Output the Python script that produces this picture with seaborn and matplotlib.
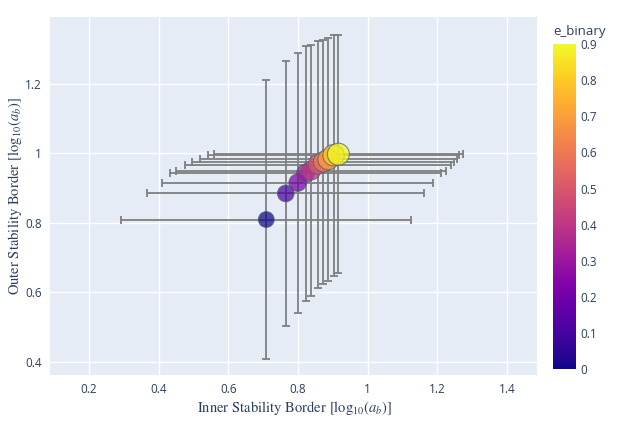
import numpy as np
import pandas as pd
import matplotlib
matplotlib.use('Agg')
import matplotlib.pyplot as plt
import seaborn as sns
from matplotlib.colors import Normalize
from matplotlib.cm import ScalarMappable

# values
e_binary = [0.0, 0.1, 0.2, 0.3, 0.4, 0.5, 0.6, 0.7, 0.8, 0.9]
inner = [0.709, 0.765, 0.799, 0.822, 0.838, 0.857, 0.873, 0.887, 0.902, 0.916]
inner_err = [0.416, 0.397, 0.390, 0.388, 0.387, 0.382, 0.376, 0.369, 0.361, 0.358]
outer = [0.810, 0.885, 0.916, 0.943, 0.951, 0.968, 0.976, 0.983, 0.995, 0.998]
outer_err = [0.401, 0.382, 0.374, 0.367, 0.360, 0.356, 0.352, 0.350, 0.347, 0.343]
size_value = [1.0, 1.1, 1.2, 1.3, 1.4, 1.5, 1.6, 1.7, 1.8, 1.9]

x_ticks = [0.2, 0.4, 0.6, 0.8, 1.0, 1.2, 1.4]
x_tick_labels = ['0.2', '0.4', '0.6', '0.8', '1', '1.2', '1.4']
y_ticks = [0.4, 0.6, 0.8, 1.0, 1.2]
y_tick_labels = ['0.4', '0.6', '0.8', '1', '1.2']
cbar_ticks = [0, 0.1, 0.2, 0.3, 0.4, 0.5, 0.6, 0.7, 0.8, 0.9]
cbar_tick_labels = ['0', '0.1', '0.2', '0.3', '0.4', '0.5', '0.6', '0.7', '0.8', '0.9']

df = pd.DataFrame({'e_binary': e_binary, 'inner': inner, 'inner_err': inner_err,
                   'outer': outer, 'outer_err': outer_err, 'size_value': size_value})

sns.set_style('darkgrid', {'axes.facecolor': '#E5ECF6', 'grid.color': 'white'})
plt.rcParams['font.family'] = ['Open Sans', 'DejaVu Sans']
plt.rcParams['mathtext.fontset'] = 'stix'

text_col = '#2a3f5f'

fig = plt.figure(figsize=(6.4, 4.25), dpi=100)
ax = fig.add_axes([0.078, 0.118, 0.761, 0.843])

ax.errorbar(df['inner'], df['outer'], xerr=df['inner_err'], yerr=df['outer_err'],
            fmt='none', ecolor='#7f7f7f', elinewidth=1.3, capsize=2.8, capthick=1.3, zorder=2)
sns.scatterplot(df, x='inner', y='outer', hue='e_binary', palette='plasma', hue_norm=(0, 0.9),
                size='size_value', sizes=(130, 250), alpha=0.72, edgecolor='#5a5a6a',
                linewidth=0.8, legend=False, ax=ax, zorder=3)

ax.set_xlim(0.088, 1.486)
ax.set_ylim(0.363, 1.394)
ax.set_xticks(x_ticks)
ax.set_xticklabels(x_tick_labels)
ax.set_yticks(y_ticks)
ax.set_yticklabels(y_tick_labels)
ax.tick_params(length=0, labelsize=8.5, labelcolor=text_col, pad=6)
ax.grid(True, color='white', linewidth=1)
for s in ax.spines.values():
    s.set_visible(False)

ax.set_xlabel(r'Inner Stability Border [log$_{10}$($a_b$)]', family='STIXGeneral',
              fontsize=10.5, color=text_col)
ax.set_ylabel(r'Outer Stability Border [log$_{10}$($a_b$)]', family='STIXGeneral',
              fontsize=10.5, color=text_col)
ax.xaxis.set_label_coords(0.502, -0.092)
ax.yaxis.set_label_coords(-0.072, 0.5)
ax.xaxis.label.set_va('center')
ax.yaxis.label.set_va('center')

cax = fig.add_axes([0.864, 0.132, 0.036, 0.764])
sm = ScalarMappable(norm=Normalize(0, 0.9), cmap='plasma')
cb = fig.colorbar(sm, cax=cax, ticks=cbar_ticks)
cb.ax.set_yticklabels(cbar_tick_labels)
cb.outline.set_visible(False)
cb.ax.tick_params(length=0, labelsize=8.5, labelcolor=text_col, pad=3)
fig.text(0.864, 0.925, 'e_binary', fontsize=9.5, color=text_col, ha='left', va='center')

fig.savefig('out.png', dpi=100)
